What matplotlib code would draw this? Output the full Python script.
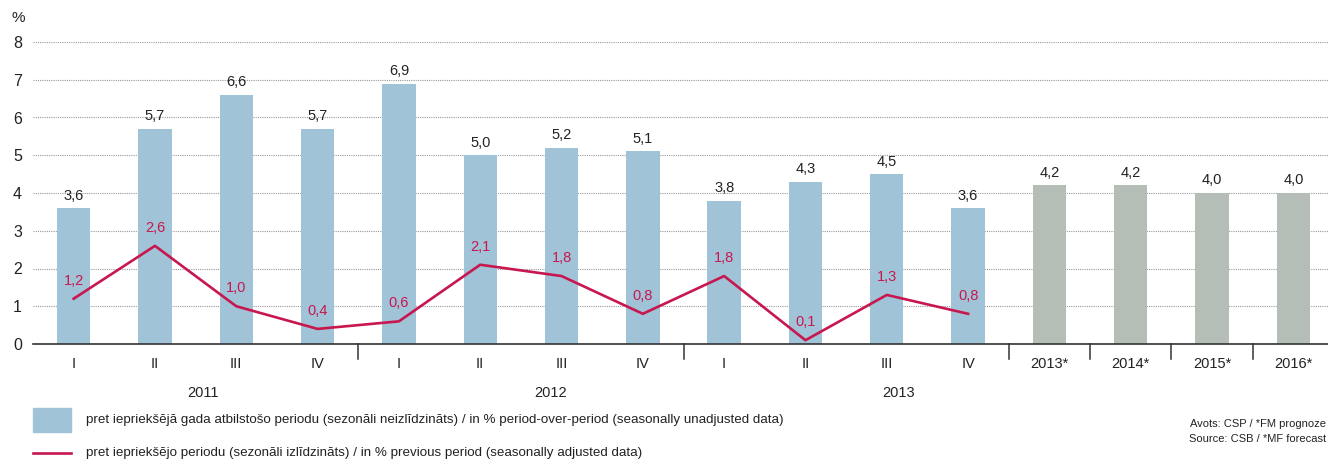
import matplotlib
matplotlib.use('Agg')
import matplotlib.pyplot as plt
import numpy as np

plt.rcParams['font.family'] = ['Liberation Sans', 'DejaVu Sans']

# data
tick_labels = ['I', 'II', 'III', 'IV', 'I', 'II', 'III', 'IV', 'I', 'II', 'III', 'IV',
               '2013*', '2014*', '2015*', '2016*']
bar_vals = [3.6, 5.7, 6.6, 5.7, 6.9, 5.0, 5.2, 5.1, 3.8, 4.3, 4.5, 3.6, 4.2, 4.2, 4.0, 4.0]
line_vals = [1.2, 2.6, 1.0, 0.4, 0.6, 2.1, 1.8, 0.8, 1.8, 0.1, 1.3, 0.8]
years = ['2011', '2012', '2013']
year_pos = [1.59, 5.86, 10.14]
dividers = [3.5, 7.5, 11.5, 12.5, 13.5, 14.5]
n_quarters = 12

blue = '#a0c3d7'
grey = '#b4beb6'
red = '#c8174f'
txt = '#222222'

fig = plt.figure(figsize=(13.28, 4.61), dpi=100)
ax = fig.add_axes([33/1328, 117/461, 1301/1328, (344-42)/461])

x = np.arange(len(bar_vals))
colors = [blue if i < n_quarters else grey for i in x]
ax.bar(x, bar_vals, width=0.41, color=colors, zorder=2)
for xi, v in zip(x, bar_vals):
    ax.annotate(f'{v:.1f}'.replace('.', ','), (xi, v), xytext=(0, 4), textcoords='offset points',
                ha='center', va='bottom', fontsize=10.5, color=txt)

xl = np.arange(len(line_vals))
ax.plot(xl, line_vals, color=red, lw=1.9, zorder=3)
for xi, v in zip(xl, line_vals):
    ax.annotate(f'{v:.1f}'.replace('.', ','), (xi, v), xytext=(0, 8), textcoords='offset points',
                ha='center', va='bottom', fontsize=10.5, color=red, zorder=4)

ax.set_xlim(-0.5, len(bar_vals) - 0.5)
ax.set_ylim(0, 8)
ax.set_yticks(range(0, 9))
ax.yaxis.grid(True, linestyle=(0, (1, 1)), color='#999999', lw=0.8, zorder=0)
ax.set_axisbelow(True)
for s in ['top', 'right', 'left']:
    ax.spines[s].set_visible(False)
ax.spines['bottom'].set_color('#333333')
ax.spines['bottom'].set_linewidth(1.2)
ax.tick_params(axis='y', length=0, labelsize=11.5, labelcolor=txt, pad=8)
ax.set_xticks(x)
ax.set_xticklabels(tick_labels, fontsize=10.5, color=txt)
ax.tick_params(axis='x', length=0, pad=9)

for d in dividers:
    ax.plot([d, d], [0, -0.4], color='#333333', lw=1.1, clip_on=False)
for y, p in zip(years, year_pos):
    ax.text(p, -1.3, y, ha='center', va='center', fontsize=10.5, color=txt)

fig.text(18/1328, 1 - 18/461, '%', fontsize=11, color=txt, ha='center', va='center')

# legend
fig.patches.append(plt.Rectangle((33/1328, 1 - 432/461), 38/1328, 24/461,
                                 transform=fig.transFigure, color=blue))
fig.add_artist(plt.Line2D([33/1328, 71/1328], [1 - 453/461, 1 - 453/461], color=red, lw=1.9))
fig.text(86/1328, 1 - 420/461,
         'pret iepriekšējā gada atbilstošo periodu (sezonāli neizlīdzināts) / in % period-over-period (seasonally unadjusted data)',
         fontsize=9.6, color=txt, va='center')
fig.text(86/1328, 1 - 453/461,
         'pret iepriekšējo periodu (sezonāli izlīdzināts) / in % previous period (seasonally adjusted data)',
         fontsize=9.6, color=txt, va='center')
fig.text(1326/1328, 1 - 424/461, 'Avots: CSP / *FM prognoze', fontsize=8, color=txt, ha='right', va='center')
fig.text(1326/1328, 1 - 439/461, 'Source: CSB / *MF forecast', fontsize=8, color=txt, ha='right', va='center')

fig.savefig('out.png', dpi=100)
